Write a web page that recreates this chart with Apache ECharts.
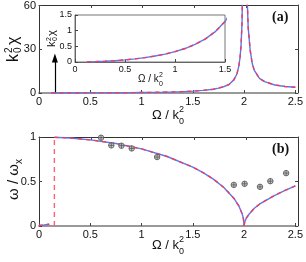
<!DOCTYPE html>
<html><head><meta charset="utf-8">
<script src="https://cdn.jsdelivr.net/npm/echarts@6/dist/echarts.min.js"></script>
<style>html,body{margin:0;padding:0;background:#fff}#c{width:306px;height:262px}</style>
</head><body><div id="c"></div>
<script>
// ---- data ----
var xTicks = ['0', '0.5', '1', '1.5', '2', '2.5'];
// panel (a): k0^2 chi vs Omega/k0^2
var omegaAL = [0.12, 0.2, 0.3, 0.4, 0.5, 0.6, 0.7, 0.8, 0.9, 1.0, 1.1, 1.2, 1.3, 1.4, 1.5, 1.6, 1.7, 1.75, 1.8, 1.85, 1.9, 1.93, 1.95, 1.96, 1.97, 1.98, 1.99];
var chiL    = [0.004, 0.01, 0.023, 0.042, 0.067, 0.099, 0.14, 0.19, 0.25, 0.33, 0.43, 0.56, 0.73, 0.96, 1.29, 1.78, 2.6, 3.3, 4.3, 5.7, 9.0, 13, 19, 24, 32, 48, 99];
var omegaAR = [2.01, 2.03, 2.04, 2.06, 2.08, 2.1, 2.15, 2.2, 2.3, 2.4, 2.5];
var chiR    = [150, 65, 45, 29, 20, 15.5, 10, 7.8, 5.5, 4.5, 3.9];
var arrowX = 0.155, arrowTop = 24;
// panel (b): omega/omega_x vs Omega/k0^2
var omegaBL = [0.15, 0.3, 0.5, 0.75, 1.0, 1.25, 1.5, 1.6, 1.7, 1.8, 1.9, 1.95, 1.98, 1.99, 1.995, 2.0];
var wL      = [0.997, 0.989, 0.968, 0.927, 0.866, 0.781, 0.661, 0.6, 0.527, 0.436, 0.312, 0.222, 0.141, 0.1, 0.07, 0];
var omegaBR = [2.0, 2.005, 2.01, 2.02, 2.05, 2.1, 2.15, 2.2, 2.3, 2.4, 2.5];
var wR      = [0, 0.04, 0.06, 0.085, 0.135, 0.2, 0.245, 0.28, 0.345, 0.4, 0.45];
var omegaB0 = [0, 0.05, 0.1];
var w0      = [0.005, 0.012, 0.02];
var cutX = 0.15;
var expX = [0.605, 0.705, 0.804, 0.904, 1.152, 1.90, 2.005, 2.155, 2.256, 2.41];
var expY = [0.992, 0.906, 0.902, 0.872, 0.775, 0.462, 0.474, 0.44, 0.504, 0.594];

function pairs(xs, ys) { return xs.map(function (x, i) { return [x, ys[i]]; }); }

var BLUE = '#5a78f0', RED = '#f03c5a', FONT = 'Liberation Sans';
var chart = echarts.init(document.getElementById('c'), null, {renderer: 'canvas'});

function xAx(gi, show, pos, min, max, iv, fs, lc, lw) {
  return {type: 'value', gridIndex: gi, position: pos, min: min, max: max, interval: iv,
    axisLine: {show: true, onZero: false, lineStyle: {color: lc, width: lw}},
    axisTick: {show: true, inside: true, length: 3, lineStyle: {color: '#444'}},
    axisLabel: {show: show, color: '#111', fontFamily: FONT, fontSize: fs, margin: 3,
      formatter: function (v) { return String(+v.toFixed(2)); }},
    splitLine: {show: false}};
}
function yAx(gi, show, pos, min, max, iv, fs, lc) {
  return {type: 'value', gridIndex: gi, position: pos, min: min, max: max, interval: iv,
    axisLine: {show: true, onZero: false, lineStyle: {color: lc, width: 1}},
    axisTick: {show: true, inside: true, length: 3, lineStyle: {color: '#444'}},
    axisLabel: {show: show, color: '#111', fontFamily: FONT, fontSize: fs, margin: 3,
      formatter: function (v) { return String(+v.toFixed(2)); }},
    splitLine: {show: false}};
}

function curve(xi, yi, data, z) {
  return [
    {type: 'line', xAxisIndex: xi, yAxisIndex: yi, data: data, showSymbol: false, symbol: 'none',
      lineStyle: {color: BLUE, width: 1.4}, z: z, silent: true, animation: false},
    {type: 'line', xAxisIndex: xi, yAxisIndex: yi, data: data, showSymbol: false, symbol: 'none',
      lineStyle: {color: RED, width: 1.4, type: [4, 4]}, z: z + 1, silent: true, animation: false}
  ];
}

function txt(x, y, s, fs, extra) {
  return Object.assign({type: 'text', x: x, y: y,
    style: {text: s, fontSize: fs, fontFamily: FONT, fill: '#111', textVerticalAlign: 'middle'}}, extra || {});
}

var series = [];
series = series.concat(curve(0, 0, pairs(omegaAL, chiL), 5));
series = series.concat(curve(0, 0, pairs(omegaAR, chiR), 5));
series = series.concat(curve(2, 2, pairs(omegaBL, wL), 5));
series = series.concat(curve(2, 2, pairs(omegaBR, wR), 5));
series = series.concat(curve(2, 2, pairs(omegaB0, w0), 5));
series = series.concat(curve(4, 4, pairs(omegaAL, chiL), 30));
// arrow
series.push({type: 'line', xAxisIndex: 0, yAxisIndex: 0, data: [], silent: true, animation: false,
  markLine: {silent: true, animation: false, symbol: ['none', 'triangle'], symbolSize: [6, 9],
    label: {show: false}, lineStyle: {color: '#000', width: 1.2, type: 'solid'},
    data: [[{coord: [arrowX, 0]}, {coord: [arrowX, arrowTop]}]]}});
// cut-off dashed line in (b)
series.push({type: 'line', xAxisIndex: 2, yAxisIndex: 2, data: pairs([cutX, cutX], [0, 1]),
  showSymbol: false, symbol: 'none', lineStyle: {color: '#ff6078', width: 1.4, type: [5, 4]}, z: 4, animation: false});
// experimental points
series.push({type: 'scatter', xAxisIndex: 2, yAxisIndex: 2, data: pairs(expX, expY),
  symbol: 'path://M0,5 A5,5 0 1,1 10,5 A5,5 0 1,1 0,5 Z M5,0 L5,10 M0,5 L10,5',
  symbolSize: 5.5, itemStyle: {color: '#bbbbbb', borderColor: '#555', borderWidth: 1}, z: 10, animation: false});

var option = {
  animation: false,
  grid: [
    {left: 39, top: 5, width: 259, height: 88},
    {left: 39, top: 5, width: 259, height: 88},
    {left: 39, top: 137, width: 259, height: 89},
    {left: 39, top: 137, width: 259, height: 89},
    {left: 75, top: 15, width: 150, height: 47, backgroundColor: '#fff', show: true, borderWidth: 1, borderColor: '#777', z: 20}
  ],
  xAxis: [
    xAx(0, true, 'bottom', 0, 2.5, 0.5, 11, '#999', 2),
    xAx(1, false, 'top', 0, 2.5, 0.5, 11, '#333', 1),
    xAx(2, true, 'bottom', 0, 2.5, 0.5, 11, '#999', 2),
    xAx(3, false, 'top', 0, 2.5, 0.5, 11, '#333', 1),
    Object.assign(xAx(4, true, 'bottom', 0, 1.5, 0.5, 9, '#666', 1), {z: 25})
  ],
  yAxis: [
    yAx(0, true, 'left', 0, 60, 30, 11, '#333'),
    yAx(1, false, 'right', 0, 60, 30, 11, '#333'),
    yAx(2, true, 'left', 0, 1, 0.5, 11, '#333'),
    yAx(3, false, 'right', 0, 1, 0.5, 11, '#333'),
    Object.assign(yAx(4, true, 'left', 0, 1.5, 0.5, 9, '#666'), {z: 25})
  ],
  series: series,
  graphic: [
    {type: 'group', x: 14, y: 62, rotation: Math.PI / 2, children: [
      txt(0, 0, 'k', 16), txt(9, -5, '2', 10), txt(9, 4, '0', 10), txt(17, 0, 'χ', 16)]},
    {type: 'group', x: 14, y: 200, rotation: Math.PI / 2, children: [
      txt(0, 0, 'ω / ω', 15), txt(36, 5, 'x', 10)]},
    {type: 'group', x: 52, y: 47, rotation: Math.PI / 2, z: 30, children: [
      txt(0, 0, 'k', 11), txt(6, -3, '2', 7), txt(6, 3, '0', 7), txt(11, 0, 'χ', 11)]},
    {type: 'group', x: 152, y: 115, children: [
      txt(0, 0, 'Ω / k', 13), txt(27, -5, '2', 9), txt(27, 7, '0', 9)]},
    {type: 'group', x: 152, y: 245, children: [
      txt(0, 0, 'Ω / k', 13), txt(27, -5, '2', 9), txt(27, 7, '0', 9)]},
    {type: 'group', x: 138, y: 79, z: 30, children: [
      txt(0, 0, 'Ω / k', 10), txt(21, -4, '2', 7), txt(21, 5, '0', 7)]},
    {type: 'text', x: 272, y: 17, z: 30, style: {text: '(a)', fontSize: 14, fontWeight: 'bold', fontFamily: 'Liberation Serif', fill: '#111', textVerticalAlign: 'middle'}},
    {type: 'text', x: 272, y: 149, z: 30, style: {text: '(b)', fontSize: 14, fontWeight: 'bold', fontFamily: 'Liberation Serif', fill: '#111', textVerticalAlign: 'middle'}}
  ]
};
chart.setOption(option);
</script></body></html>
